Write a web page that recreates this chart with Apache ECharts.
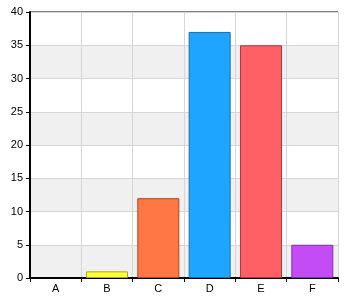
<!DOCTYPE html>
<html><head><meta charset="utf-8">
<script src="https://cdn.jsdelivr.net/npm/echarts@6/dist/echarts.min.js"></script>
<style>html,body{margin:0;padding:0;background:#fff}#c{width:350px;height:300px}</style>
</head><body><div id="c"></div>
<script>
var categories = ['A','B','C','D','E','F'];
var values = [0, 1, 12, 37, 35, 5];
var barColors = ['#cccccc','#ffff33','#ff7744','#1ea5ff','#ff6066','#c44cf5'];
var borderColors = ['#888888','#aaaa22','#aa4422','#1a6fa8','#a83a40','#8030a8'];
var yTicks = [0,5,10,15,20,25,30,35,40];

var chart = echarts.init(document.getElementById('c'), null, {renderer:'canvas'});
chart.setOption({
  animation:false,
  grid:{left:30,top:12,right:12,bottom:22,show:true,borderColor:'#000',borderWidth:1,backgroundColor:'transparent'},
  xAxis:{type:'category',data:categories,
    axisLine:{lineStyle:{color:'#000',width:2}},
    axisTick:{show:true,alignWithLabel:false,length:4,lineStyle:{color:'#000'}},
    axisLabel:{color:'#000',fontFamily:'Liberation Sans, Arial, sans-serif',fontSize:11,margin:5},
    splitLine:{show:true,interval:0,lineStyle:{color:'#d6d6d6'}}
  },
  yAxis:{type:'value',min:0,max:40,interval:5,
    axisLine:{show:true,lineStyle:{color:'#000',width:2}},
    axisTick:{show:true,length:4,lineStyle:{color:'#000'}},
    axisLabel:{color:'#000',fontFamily:'Liberation Sans, Arial, sans-serif',fontSize:11,margin:7},
    splitLine:{show:true,lineStyle:{color:'#d6d6d6'}},
    splitArea:{show:true,areaStyle:{color:['#f0f0f0','#ffffff']}}
  },
  series:[{type:'bar',barWidth:42,
    data:values.map(function(v,i){return {value:v,itemStyle:{color:barColors[i],borderColor:borderColors[i],borderWidth:v>0?1:0}};})
  }]
});
</script></body></html>
